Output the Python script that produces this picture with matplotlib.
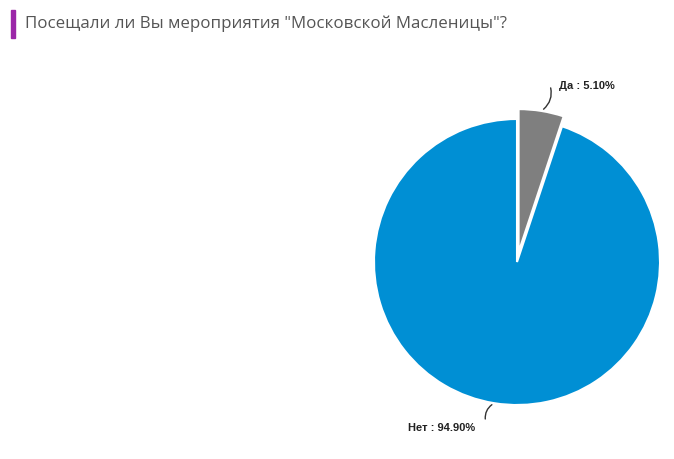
import numpy as np
import matplotlib
matplotlib.use("Agg")
import matplotlib.pyplot as plt
from matplotlib.patches import Rectangle

labels = ["Да", "Нет"]
values = [5.10, 94.90]
colors = ["#7f7f7f", "#008fd4"]
title = 'Посещали ли Вы мероприятия "Московской Масленицы"?'

W, H = 674, 460
fig = plt.figure(figsize=(W / 100, H / 100), dpi=100)

# title with purple marker bar
fig.patches.append(Rectangle((11 / W, 1 - 39 / H), 4 / W, 28 / H,
                             transform=fig.transFigure, color="#9b27a8"))
fig.text(25 / W, 1 - 24 / H, title, fontsize=12.2, color="#555555",
         family="Open Sans", va="center", ha="left")

# pie axes: centre (517, 263) px, radius 143 px
cx, cy, r = 517, 263, 143
ax = fig.add_axes([(cx - r) / W, (H - cy - r) / H, 2 * r / W, 2 * r / H])
explode = [0.07, 0]
wedges, _ = ax.pie(values, colors=colors, startangle=90, counterclock=False,
                   explode=explode, radius=1,
                   wedgeprops=dict(edgecolor="white", linewidth=1.5))
ax.set_xlim(-1, 1)
ax.set_ylim(-1, 1)
ax.set_aspect("equal")
ax.axis("off")

offsets = [(0.06, 0.18), (-0.06, -0.13)]
for w, lab, v, e, (dx, dy) in zip(wedges, labels, values, explode, offsets):
    ang = np.deg2rad((w.theta1 + w.theta2) / 2)
    x0, y0 = (1 + e) * np.cos(ang), (1 + e) * np.sin(ang)
    x1, y1 = x0 + dx, y0 + dy
    ax.annotate("", xy=(x0, y0), xytext=(x1, y1),
                arrowprops=dict(arrowstyle="-", color="#333333", lw=1,
                                connectionstyle="arc3,rad=-0.35"),
                annotation_clip=False)
    ha = "left" if dx > 0 else "right"
    tx = x1 + (0.06 if dx > 0 else -0.07)
    ty = y1 if dy > 0 else y1 - 0.04
    ax.text(tx, ty, f"{lab} : {v:.2f}%", ha=ha, va="center", fontsize=8,
            fontweight="bold", family="Liberation Sans", color="#222222",
            clip_on=False)

fig.savefig("out.png", dpi=100)
